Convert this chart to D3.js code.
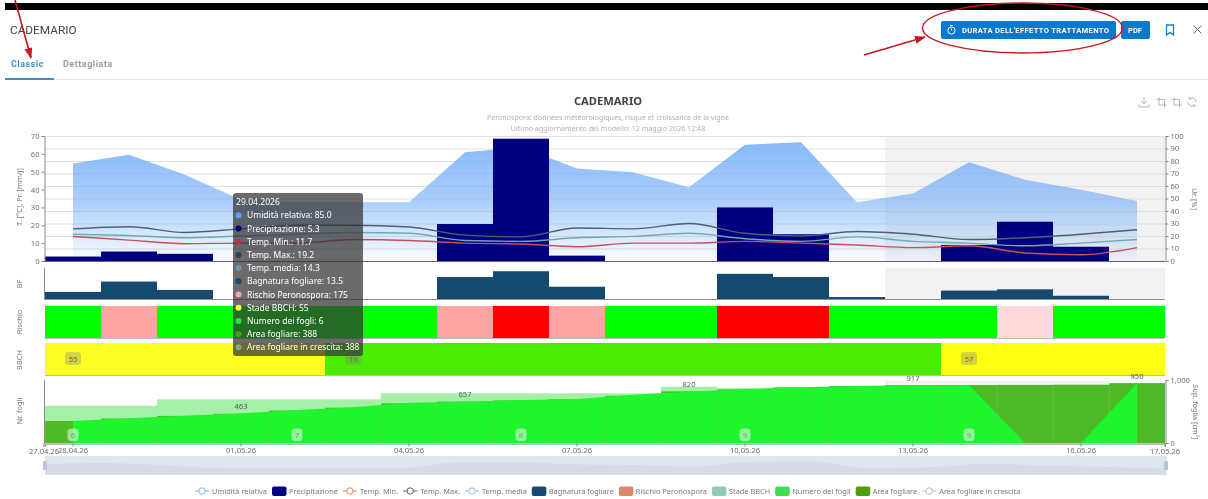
<!DOCTYPE html>
<html><head><meta charset="utf-8">
<script src="https://cdn.jsdelivr.net/npm/d3@7/dist/d3.min.js"></script>
<style>
html,body{margin:0;padding:0;background:#fff;overflow:hidden}
svg{display:block;filter:blur(0.35px)}
text{font-family:"Noto Sans",sans-serif}
.ui{font-family:Roboto,sans-serif}
</style></head><body>
<svg id="c" width="1208" height="499"></svg>
<script>
// ---------- data ----------
const days = ["28.04.26","29.04.26","30.04.26","01.05.26","02.05.26","03.05.26","04.05.26","05.05.26","06.05.26","07.05.26","08.05.26","09.05.26","10.05.26","11.05.26","12.05.26","13.05.26","14.05.26","15.05.26","16.05.26","17.05.26"];
const tickDays = ["28.04.26","01.05.26","04.05.26","07.05.26","10.05.26","13.05.26","16.05.26"];
const firstLabel = "27.04.26", lastLabel = "17.05.26";
const humidity = [78,85,69,49,47,47,47,87,91,74,71,59,93,95,47,54,79,65,57,48];
const precipitation = [2.5,5.3,4,0,0,0,0,20.7,68.5,3,0,0,30,15,0,0,9,22,8,0];
const tempMin = [13.7,11.7,9.7,10,10,12,11.5,10,9.5,8,10,10,11,10,9,7.5,8.5,4.5,3.5,7.5];
const tempMax = [18,19.2,16,18,20,20,19,14.5,13.5,18.5,18,21,15.5,14,16.5,15,12,13,15,17.5];
const tempMean = [15,14.3,13,14,15,16,15.5,11.5,11,13,13.8,15.5,12.5,11,13.5,11,10,8.5,10,12];
const wetness = [5.5,13.5,7,0,0,0,0,17,21.5,9.5,0,0,19.5,17,1.5,0,6.5,7.5,2.5,0];
const risk = [20,175,20,20,20,20,20,175,350,175,20,20,350,350,20,20,20,120,20,20];
const bbch = [55,55,55,55,55,19,19,19,19,19,19,19,19,19,19,19,57,57,57,57];
const leafCount = [6,6,6,6,7,7,7,7,8,8,8,8,9,9,9,9,9,9,9,9];
const leafCountLine = [349,391,434,471,524,566,640,656,682,698,767,815,857,883,905,915,920,0,0,947];
const leafArea = [349,388,430,463,515,560,630,657,675,695,750,820,850,880,903,917,920,922,925,950];
const leafGrowth = [592,592,693,693,693,693,788,788,788,788,788,894,870,890,908,989,989,989,989,950];
const legendItems = [["Umidità relativa","line","#7fb2e8"],["Precipitazione","rect","#000080"],["Temp. Min.","line","#d9826f"],["Temp. Max.","line","#5a5f6a"],["Temp. media","line","#8fc0d8"],["Bagnatura fogliare","rect","#15496f"],["Rischio Peronospora","rect","#e0876a"],["Stade BBCH","rect","#8fcdb0"],["Numero dei fogli","rect","#3fdc55"],["Area fogliare","rect","#4f9e0a"],["Area fogliare in crescita","line","#a8c4b8"]];

// ---------- scales ----------
const svg = d3.select("#c");
const L = 45, R = 1165;
const x = d3.scaleBand().domain(days).range([L,R]);
const cx = d => x(d)+x.bandwidth()/2;
const yT = d3.scaleLinear().domain([0,70]).range([261,136]);
const yH = d3.scaleLinear().domain([0,100]).range([261,136]);
const yB = d3.scaleLinear().domain([0,24]).range([299,268]);
const yL = d3.scaleLinear().domain([0,1000]).range([443,380]);
const ySl = d3.scaleLinear().domain([0,100]).range([475,456]);
const riskColor = d3.scaleThreshold().domain([100,150,300]).range(["#00ff00","#ffd9d9","#ffa3a3","#ff0000"]);
const bbchColor = d3.scaleOrdinal().domain([55,19,57]).range(["#ffff22","#4cec00","#ffff11"]);
const growthColor = d3.scaleThreshold().domain([951]).range(["#a6efa6","#eff3ef"]);

const defs = svg.append("defs");
const g = defs.append("linearGradient").attr("id","hum").attr("x1",0).attr("x2",0).attr("y1",0).attr("y2",1);
g.append("stop").attr("offset",0).attr("stop-color","#72adfa").attr("stop-opacity",.85);
g.append("stop").attr("offset",.5).attr("stop-color","#72adfa").attr("stop-opacity",.6);
g.append("stop").attr("offset",1).attr("stop-color","#72adfa").attr("stop-opacity",.03);
const arrow = defs.append("marker").attr("id","ah").attr("markerWidth",12).attr("markerHeight",10).attr("refX",10).attr("refY",4).attr("orient","auto").attr("markerUnits","userSpaceOnUse");
arrow.append("path").attr("d","M0,0L11,4L0,8Z").attr("fill","#c8171e");

// ---------- page chrome ----------
svg.append("rect").attr("x",5).attr("y",3).attr("width",1203).attr("height",7).attr("fill","#000");
svg.append("text").attr("class","ui").attr("x",10).attr("y",33.5).attr("font-size",11.8).attr("fill","#444").text("CADEMARIO");
svg.append("text").attr("class","ui").attr("x",11).attr("y",67).attr("font-size",8.8).attr("font-weight",700).attr("letter-spacing",.6).attr("fill","#3d8fc4").text("Classic");
svg.append("text").attr("class","ui").attr("x",63).attr("y",67).attr("font-size",8.8).attr("font-weight",700).attr("letter-spacing",.6).attr("fill","#9a9a9a").text("Dettagliata");
svg.append("rect").attr("x",5).attr("y",79).attr("width",1203).attr("height",1).attr("fill","#e8e8e8");
svg.append("rect").attr("x",5).attr("y",78).attr("width",49).attr("height",2).attr("fill","#3d8fc4");
svg.append("rect").attr("x",941).attr("y",21).attr("width",175).attr("height",18).attr("rx",2).attr("fill","#0a78cc");
svg.append("circle").attr("cx",951.5).attr("cy",30.5).attr("r",3.6).attr("fill","none").attr("stroke","#fff").attr("stroke-width",1);
svg.append("path").attr("d","M950,25.5h3M951.5,30.5v-2").attr("stroke","#fff").attr("fill","none");
svg.append("text").attr("class","ui").attr("x",962).attr("y",32.5).attr("font-size",7.6).attr("font-weight",700).attr("letter-spacing",.33).attr("fill","#fff").text("DURATA DELL'EFFETTO TRATTAMENTO");
svg.append("rect").attr("x",1121).attr("y",21).attr("width",29).attr("height",18).attr("rx",2).attr("fill","#0a78cc");
svg.append("text").attr("class","ui").attr("x",1128).attr("y",32.5).attr("font-size",7.6).attr("font-weight",700).attr("fill","#fff").text("PDF");
svg.append("path").attr("d","M1166.5,25h7v10l-3.5,-2.6l-3.5,2.6Z").attr("fill","none").attr("stroke","#1a7fd0").attr("stroke-width",1.3);
svg.append("path").attr("d","M1193.5,25.5l8,8M1201.5,25.5l-8,8").attr("stroke","#666").attr("stroke-width",1);
svg.append("ellipse").attr("cx",1022.5).attr("cy",28).attr("rx",100).attr("ry",25).attr("fill","none").attr("stroke","#c8171e").attr("stroke-width",1.4);
svg.append("line").attr("x1",864).attr("y1",55).attr("x2",925).attr("y2",37).attr("stroke","#c8171e").attr("stroke-width",1.4).attr("marker-end","url(#ah)");
svg.append("line").attr("x1",15).attr("y1",0).attr("x2",31).attr("y2",58).attr("stroke","#c8171e").attr("stroke-width",1.6).attr("marker-end","url(#ah)");

svg.append("text").attr("x",608).attr("y",105).attr("text-anchor","middle").attr("font-size",11.2).attr("font-weight",700).attr("fill","#444").text("CADEMARIO");
svg.append("text").attr("x",608).attr("y",120).attr("text-anchor","middle").attr("font-size",7.1).attr("fill","#b0b0b0").text("Peronospora: données météorologiques, risque et croissance de la vigne");
svg.append("text").attr("x",608).attr("y",131).attr("text-anchor","middle").attr("font-size",7.1).attr("fill","#b0b0b0").text("Ultimo aggiornamento del modello: 12 maggio 2026 12:48");
const tb = svg.append("g").attr("fill","none").attr("stroke","#b0b0b0").attr("stroke-width",.9);
tb.append("path").attr("d","M1144,97v7M1141,101l3,3l3,-3M1139,104.5v2.5h10v-2.5");
tb.append("path").attr("d","M1159,97v8h8M1156.5,99.5h8v8");
tb.append("path").attr("d","M1174,97v8h8M1171.5,99.5h8v8");
tb.append("path").attr("d","M1196,102a4.2,4.2 0 0 0 -7,-3.2M1188,102a4.2,4.2 0 0 0 7,3.2M1189,96.5v2.5h2.5M1195,107.5v-2.5h-2.5");

// ---------- top panel ----------
svg.append("rect").attr("x",x(days[15])).attr("y",136).attr("width",R-x(days[15])).attr("height",125).attr("fill","#f2f2f2");
svg.append("rect").attr("x",x(days[15])).attr("y",268).attr("width",R-x(days[15])).attr("height",31).attr("fill","#f2f2f2");
svg.append("g").selectAll("line").data(yH.ticks(10)).join("line")
  .attr("x1",L).attr("x2",R).attr("y1",d=>yH(d)+.5).attr("y2",d=>yH(d)+.5).attr("stroke","#dfdfdf");
svg.append("path").datum(humidity).attr("fill","url(#hum)")
  .attr("d",d3.area().x((d,i)=>cx(days[i])).y0(yH(0)).y1(d=>yH(d)));
svg.append("g").selectAll("rect").data(precipitation).join("rect")
  .attr("x",(d,i)=>x(days[i])).attr("width",x.bandwidth()).attr("y",d=>yT(d)).attr("height",d=>yT(0)-yT(d)).attr("fill","#000080");
const tline = d3.line().x((d,i)=>cx(days[i])).y(d=>yT(d)).curve(d3.curveMonotoneX);
[[tempMin,"#c94f5a"],[tempMean,"#6fa8b4"],[tempMax,"#4f5f74"]].forEach(([s,c])=>{
  svg.append("path").datum(s).attr("fill","none").attr("stroke",c).attr("stroke-width",1.4).attr("d",tline);
});
const axStyle = sel => { sel.selectAll("text").attr("fill","#6e6e6e").attr("font-size",7.6).attr("font-family",'"Noto Sans",sans-serif');
  sel.selectAll("line,path").attr("stroke","#8a8a8a"); };
svg.append("g").attr("transform",`translate(${L-.5},0)`).call(d3.axisLeft(yT).tickValues(d3.range(0,71,10)).tickSize(3).tickPadding(2)).call(axStyle);
svg.append("g").attr("transform",`translate(${R+.5},0)`).call(d3.axisRight(yH).tickValues(d3.range(0,101,10)).tickSize(3).tickPadding(2)).call(axStyle);
svg.append("line").attr("x1",L).attr("x2",R).attr("y1",261.5).attr("y2",261.5).attr("stroke","#6a5a90").attr("stroke-width",1);

// ---------- wetness panel ----------
svg.append("g").selectAll("rect").data(wetness).join("rect")
  .attr("x",(d,i)=>x(days[i])).attr("width",x.bandwidth()).attr("y",d=>yB(d)).attr("height",d=>yB(0)-yB(d)).attr("fill","#15496f");
svg.append("line").attr("x1",L).attr("x2",R).attr("y1",299.5).attr("y2",299.5).attr("stroke","#8a8f98");
svg.append("line").attr("x1",L-.5).attr("x2",L-.5).attr("y1",268).attr("y2",300).attr("stroke","#8a8a8a");

// ---------- risk panel ----------
svg.append("g").selectAll("rect").data(risk).join("rect")
  .attr("x",(d,i)=>x(days[i])).attr("width",x.bandwidth()).attr("y",306).attr("height",32).attr("fill",d=>riskColor(d));
svg.append("line").attr("x1",L).attr("x2",R).attr("y1",338.5).attr("y2",338.5).attr("stroke","#bbb");

// ---------- BBCH panel ----------
svg.append("g").selectAll("rect").data(bbch).join("rect")
  .attr("x",(d,i)=>x(days[i])).attr("width",x.bandwidth()).attr("y",343).attr("height",32).attr("fill",d=>bbchColor(d));
svg.append("line").attr("x1",L).attr("x2",R).attr("y1",375.5).attr("y2",375.5).attr("stroke","#bbb");
bbch.forEach((d,i)=>{ if(i===0||bbch[i-1]!==d){
  const px=cx(days[i]);
  svg.append("rect").attr("x",px-8).attr("y",352).attr("width",16).attr("height",13).attr("rx",3.5).attr("fill","rgba(130,130,130,.35)");
  svg.append("text").attr("x",px).attr("y",361.5).attr("text-anchor","middle").attr("font-size",7.6).attr("fill","#666").text(d);
}});

// ---------- leaf panel ----------
svg.append("g").selectAll("rect").data(leafGrowth).join("rect")
  .attr("x",(d,i)=>x(days[i])).attr("width",x.bandwidth()).attr("y",d=>yL(d)).attr("height",d=>yL(0)-yL(d)).attr("fill",d=>growthColor(d));
svg.append("g").selectAll("rect").data(leafArea).join("rect")
  .attr("x",(d,i)=>x(days[i])).attr("width",x.bandwidth()).attr("y",d=>yL(d)).attr("height",d=>yL(0)-yL(d)).attr("fill","#4cbb26");
svg.append("path").datum(leafCountLine).attr("fill","#1ff52e")
  .attr("d",d3.area().x((d,i)=>cx(days[i])).y0(yL(0)).y1(d=>yL(d)));
svg.append("g").selectAll("line").data(leafArea).join("line")
  .attr("x1",(d,i)=>x(days[i])+.5).attr("x2",(d,i)=>x(days[i])+.5).attr("y1",d=>yL(d)).attr("y2",yL(0)).attr("stroke","rgba(120,205,100,.35)");
leafCount.forEach((d,i)=>{ if(i%4===0){
  const px=cx(days[i]);
  svg.append("rect").attr("x",px-5.5).attr("y",428.5).attr("width",11).attr("height",12.5).attr("rx",3.5).attr("fill","rgba(255,255,255,.5)");
  svg.append("text").attr("x",px).attr("y",437.5).attr("text-anchor","middle").attr("font-size",7.6).attr("fill","#5aa85a").text(d);
}});
leafArea.forEach((d,i)=>{ if(i%4===3)
  svg.append("text").attr("x",cx(days[i])).attr("y",yL(d)-4.5).attr("text-anchor","middle").attr("font-size",7.6).attr("fill","#555").text(d);
});
svg.append("line").attr("x1",L-.5).attr("x2",L-.5).attr("y1",380).attr("y2",444).attr("stroke","#8a8a8a");
svg.append("g").attr("transform",`translate(${R+.5},0)`).call(d3.axisRight(yL).tickValues([0,1000]).tickSize(3).tickPadding(2).tickFormat(d3.format(","))).call(axStyle);
const xAxis = svg.append("g").attr("transform","translate(0,443.5)")
  .call(d3.axisBottom(x).tickValues(tickDays).tickSize(3).tickPadding(0)).call(axStyle);
xAxis.select(".domain").attr("stroke","#6a8a6a");
xAxis.selectAll("text").attr("dy","0.88em");
[[L-1,firstLabel],[R,lastLabel]].forEach(([p,t])=>{
  svg.append("line").attr("x1",p).attr("x2",p).attr("y1",443).attr("y2",447).attr("stroke","#8a8a8a");
  svg.append("text").attr("x",p).attr("y",454).attr("text-anchor","middle").attr("font-size",7.6).attr("fill","#6e6e6e").text(t);
});

// ---------- data zoom ----------
svg.append("rect").attr("x",L).attr("y",456).attr("width",R-L+2).attr("height",19).attr("fill","#dfe5ee");
svg.append("path").datum(humidity).attr("fill","#d3dbe7")
  .attr("d",d3.area().x((d,i)=>L+(R-L)*i/(days.length-1)).y0(475).y1(d=>ySl(d*.75)).curve(d3.curveMonotoneX));
[L,R+1].forEach(p=>svg.append("rect").attr("x",p-2).attr("y",461).attr("width",4).attr("height",9).attr("rx",1).attr("fill","#b5c4dc"));

// ---------- legend ----------
let lx = 195;
const lg = svg.append("g");
legendItems.forEach(([t,k,c])=>{
  if(k==="line"){
    lg.append("line").attr("x1",lx).attr("x2",lx+14).attr("y1",491).attr("y2",491).attr("stroke",c);
    lg.append("circle").attr("cx",lx+7).attr("cy",491).attr("r",3.2).attr("fill","#fff").attr("stroke",c);
  } else {
    lg.append("rect").attr("x",lx).attr("y",486.5).attr("width",14.5).attr("height",9.5).attr("rx",2).attr("fill",c);
  }
  const tx = lg.append("text").attr("x",lx+17).attr("y",494).attr("font-size",7.4).attr("fill","#7a7a7a").text(t);
  lx += 17 + tx.node().getComputedTextLength() + 5;
});

// ---------- axis names ----------
const vlabel = (px,py,t,rot,fs) => svg.append("text").attr("transform",`translate(${px},${py}) rotate(${rot})`).attr("text-anchor","middle").attr("font-size",fs).attr("fill","#777").text(t);
vlabel(22,197,"T. [°C], Pr. [mm/j]",-90,7.4);
vlabel(22,284,"BF",-90,7.4);
vlabel(22,322,"Rischio",-90,7.4);
vlabel(22,360,"BBCH",-90,7.4);
vlabel(22,411,"Nr. fogli",-90,7.4);
vlabel(1192,199,"Ur. [%]",90,7.4);
vlabel(1192.5,412,"Sup. foglia [cm²]",90,7.2);

// ---------- tooltip (29.04) ----------
const i0 = 1;
const tipRows = [
 ["Umidità relativa",humidity[i0].toFixed(1),"#5aa0f8"],
 ["Precipitazione",precipitation[i0],"#000080"],
 ["Temp. Min.",tempMin[i0],"#c4302f"],
 ["Temp. Max.",tempMax[i0],"#2f4554"],
 ["Temp. media",tempMean[i0],"#61a0a8"],
 ["Bagnatura fogliare",wetness[i0],"#15496f"],
 ["Rischio Peronospora",risk[i0],"#ffa3a3"],
 ["Stade BBCH",bbch[i0],"#ffff33"],
 ["Numero dei fogli",leafCount[i0],"#33dd44"],
 ["Area fogliare",leafArea[i0],"#4c9e00"],
 ["Area fogliare in crescita",leafArea[i0],"#7aa590"]];
const tip = svg.append("g");
tip.append("rect").attr("x",233).attr("y",193).attr("width",130).attr("height",163).attr("rx",3).attr("fill","rgba(50,50,50,.72)");
tip.append("text").attr("x",236).attr("y",205).attr("font-size",8.6).attr("fill","#fff").text("29.04.2026");
tipRows.forEach(([n,v,c],i)=>{
  const yy = 215.3+i*13.2;
  tip.append("circle").attr("cx",238.5).attr("cy",yy).attr("r",3).attr("fill",c);
  tip.append("text").attr("x",247).attr("y",yy+3).attr("font-size",8.5).attr("fill","#fff").text(`${n}: ${v}`);
});
</script>
</body></html>
